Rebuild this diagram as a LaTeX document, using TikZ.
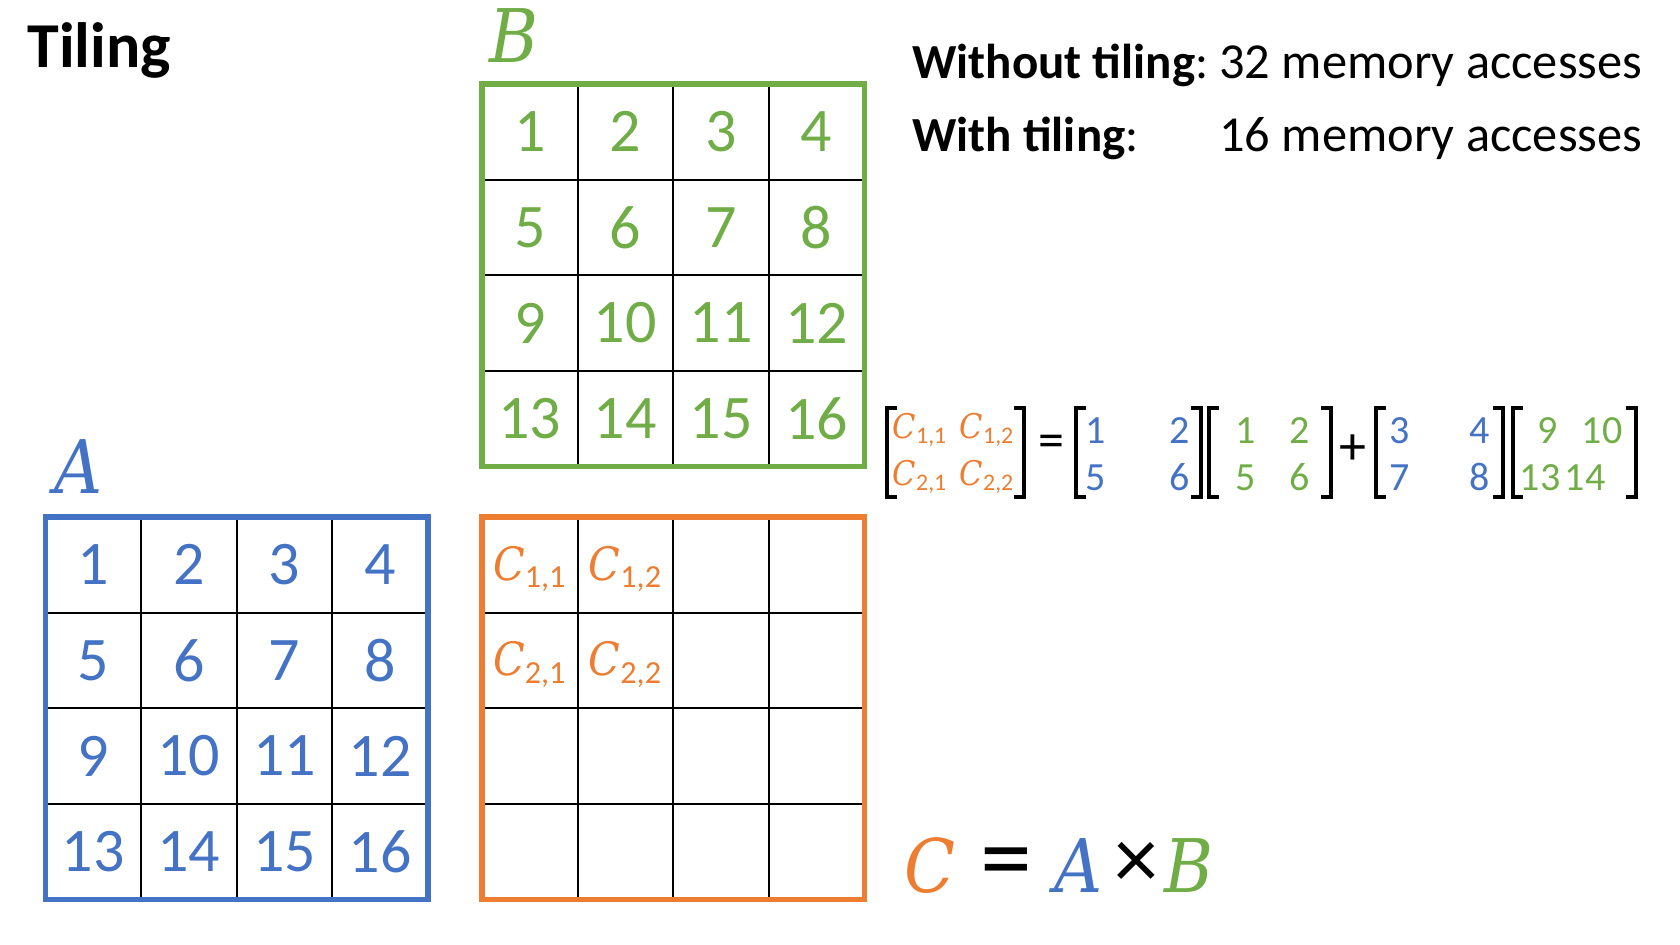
\documentclass[tikz,border=0pt]{standalone}
\usepackage{fontspec}
\setmainfont{Carlito}
\newfontfamily\letfont{DejaVu Serif Condensed}
\definecolor{ablue}{HTML}{4472C4}
\definecolor{bgreen}{HTML}{70AD47}
\definecolor{corange}{HTML}{ED7D31}
\newcommand{\lbrk}[1]{\draw[brk](#1+10,408)-|(#1,497)--(#1+10,497);}
\newcommand{\rbrk}[1]{\draw[brk](#1-10,408)-|(#1,497)--(#1-10,497);}
\newcommand{\cij}[1]{{\letfont\itshape C}\textsubscript{#1}}
\begin{document}
\begin{tikzpicture}[x=0.5pt,y=-0.5pt,every node/.style={inner sep=0pt},
    cellnum/.style={font=\fontsize{31}{31}\selectfont},
    clabel/.style={text=corange,font=\fontsize{23}{23}\selectfont},
    gridline/.style={line width=1pt},
    frame/.style={line width=2.6pt},
    brk/.style={line width=1.6pt},
    entry/.style={anchor=base,font=\fontsize{20}{20}\selectfont},
    eqc/.style={anchor=base,text=corange,font=\fontsize{17}{17}\selectfont},
    biglet/.style={anchor=base,font=\fontsize{37}{37}\selectfont\letfont\itshape},
    bigsign/.style={anchor=base,font=\fontsize{52}{52}\selectfont},
    head/.style={anchor=base west,font=\fontsize{24.5}{24.5}\selectfont},
    headval/.style={anchor=base west,font=\fontsize{25.2}{25.2}\selectfont}]
  \useasboundingbox(0,0)rectangle(1680,944);
  % title and header
  \node[anchor=base west,font=\fontsize{32}{32}\selectfont\bfseries](title)at(27,67){Tiling};
  \node[head](wo)at(912,78){\textbf{Without tiling}:};
  \node[headval](woval)at(1219,78){32 memory accesses};
  \node[head](wi)at(912,151){\textbf{With tiling}:};
  \node[headval](wival)at(1219,151){16 memory accesses};
  % the three grids
  \foreach \i in {1,2,3}
    {\draw[gridline](45.5+\i*95.6,517)--++(0,382.5);
     \draw[gridline](45.5,517+\i*95.6)--++(382.5,0);
     \draw[gridline](482+\i*95.6,84)--++(0,382.5);
     \draw[gridline](482,84+\i*95.6)--++(382.5,0);
     \draw[gridline](482+\i*95.6,517)--++(0,382.5);
     \draw[gridline](482,517+\i*95.6)--++(382.5,0);}
  \draw[frame,ablue](45.5,517)rectangle++(382.5,382.5);
  \draw[frame,bgreen](482,84)rectangle++(382.5,382.5);
  \draw[frame,corange](482,517)rectangle++(382.5,382.5);
  \foreach \n in {1,...,16}
    {\pgfmathtruncatemacro\col{mod(\n-1,4)}
     \pgfmathtruncatemacro\row{(\n-1)/4}
     \node[cellnum,text=ablue](a\n)at(93.3+\col*95.6,564.8+\row*95.6){\n};
     \node[cellnum,text=bgreen](b\n)at(529.8+\col*95.6,131.8+\row*95.6){\n};}
  \node[clabel](c11)at(529.8,569){\cij{1,1}};
  \node[clabel](c12)at(625.4,569){\cij{1,2}};
  \node[clabel](c21)at(529.8,664.6){\cij{2,1}};
  \node[clabel](c22)at(625.4,664.6){\cij{2,2}};
  \node[biglet,text=ablue,anchor=base west](labA)at(54,493){A};
  \node[biglet,text=bgreen,anchor=base west](labB)at(489,62){B};
  % C = A x B
  \node[biglet,text=corange](eqC)at(930,892){C};
  \node[bigsign](eqeq)at(1006,892){=};
  \node[biglet,text=ablue](eqA)at(1079,892){A};
  \node[bigsign,font=\fontsize{44}{44}\selectfont](eqx)at(1136,888){×};
  \node[biglet,text=bgreen](eqB)at(1189,892){B};
  % tiled product
  \lbrk{887}\rbrk{1024}
  \node[eqc](m11)at(920,438){\cij{1,1}};
  \node[eqc](m12)at(987,438){\cij{1,2}};
  \node[eqc](m21)at(920,485){\cij{2,1}};
  \node[eqc](m22)at(987,485){\cij{2,2}};
  \node[font=\fontsize{26}{26}\selectfont](eqs)at(1051,446){=};
  \lbrk{1076}\rbrk{1201}
  \node[entry,text=ablue](p1)at(1096,443){1};
  \node[entry,text=ablue](p2)at(1180,443){2};
  \node[entry,text=ablue](p5)at(1096,490){5};
  \node[entry,text=ablue](p6)at(1180,490){6};
  \lbrk{1209}\rbrk{1331}
  \node[entry,text=bgreen](q1)at(1246,443){1};
  \node[entry,text=bgreen](q2)at(1300,443){2};
  \node[entry,text=bgreen](q5)at(1246,490){5};
  \node[entry,text=bgreen](q6)at(1300,490){6};
  \node[font=\fontsize{27}{27}\selectfont](plus)at(1353,450){+};
  \lbrk{1376}\rbrk{1503}
  \node[entry,text=ablue](p3)at(1400,443){3};
  \node[entry,text=ablue](p4)at(1480,443){4};
  \node[entry,text=ablue](p7)at(1400,490){7};
  \node[entry,text=ablue](p8)at(1480,490){8};
  \lbrk{1513}\rbrk{1636}
  \node[entry,text=bgreen](q9)at(1548,443){9};
  \node[entry,text=bgreen](q10)at(1602,443){10};
  \node[entry,text=bgreen](q13)at(1540,490){13};
  \node[entry,text=bgreen](q14)at(1585,490){14};
\end{tikzpicture}
\end{document}
